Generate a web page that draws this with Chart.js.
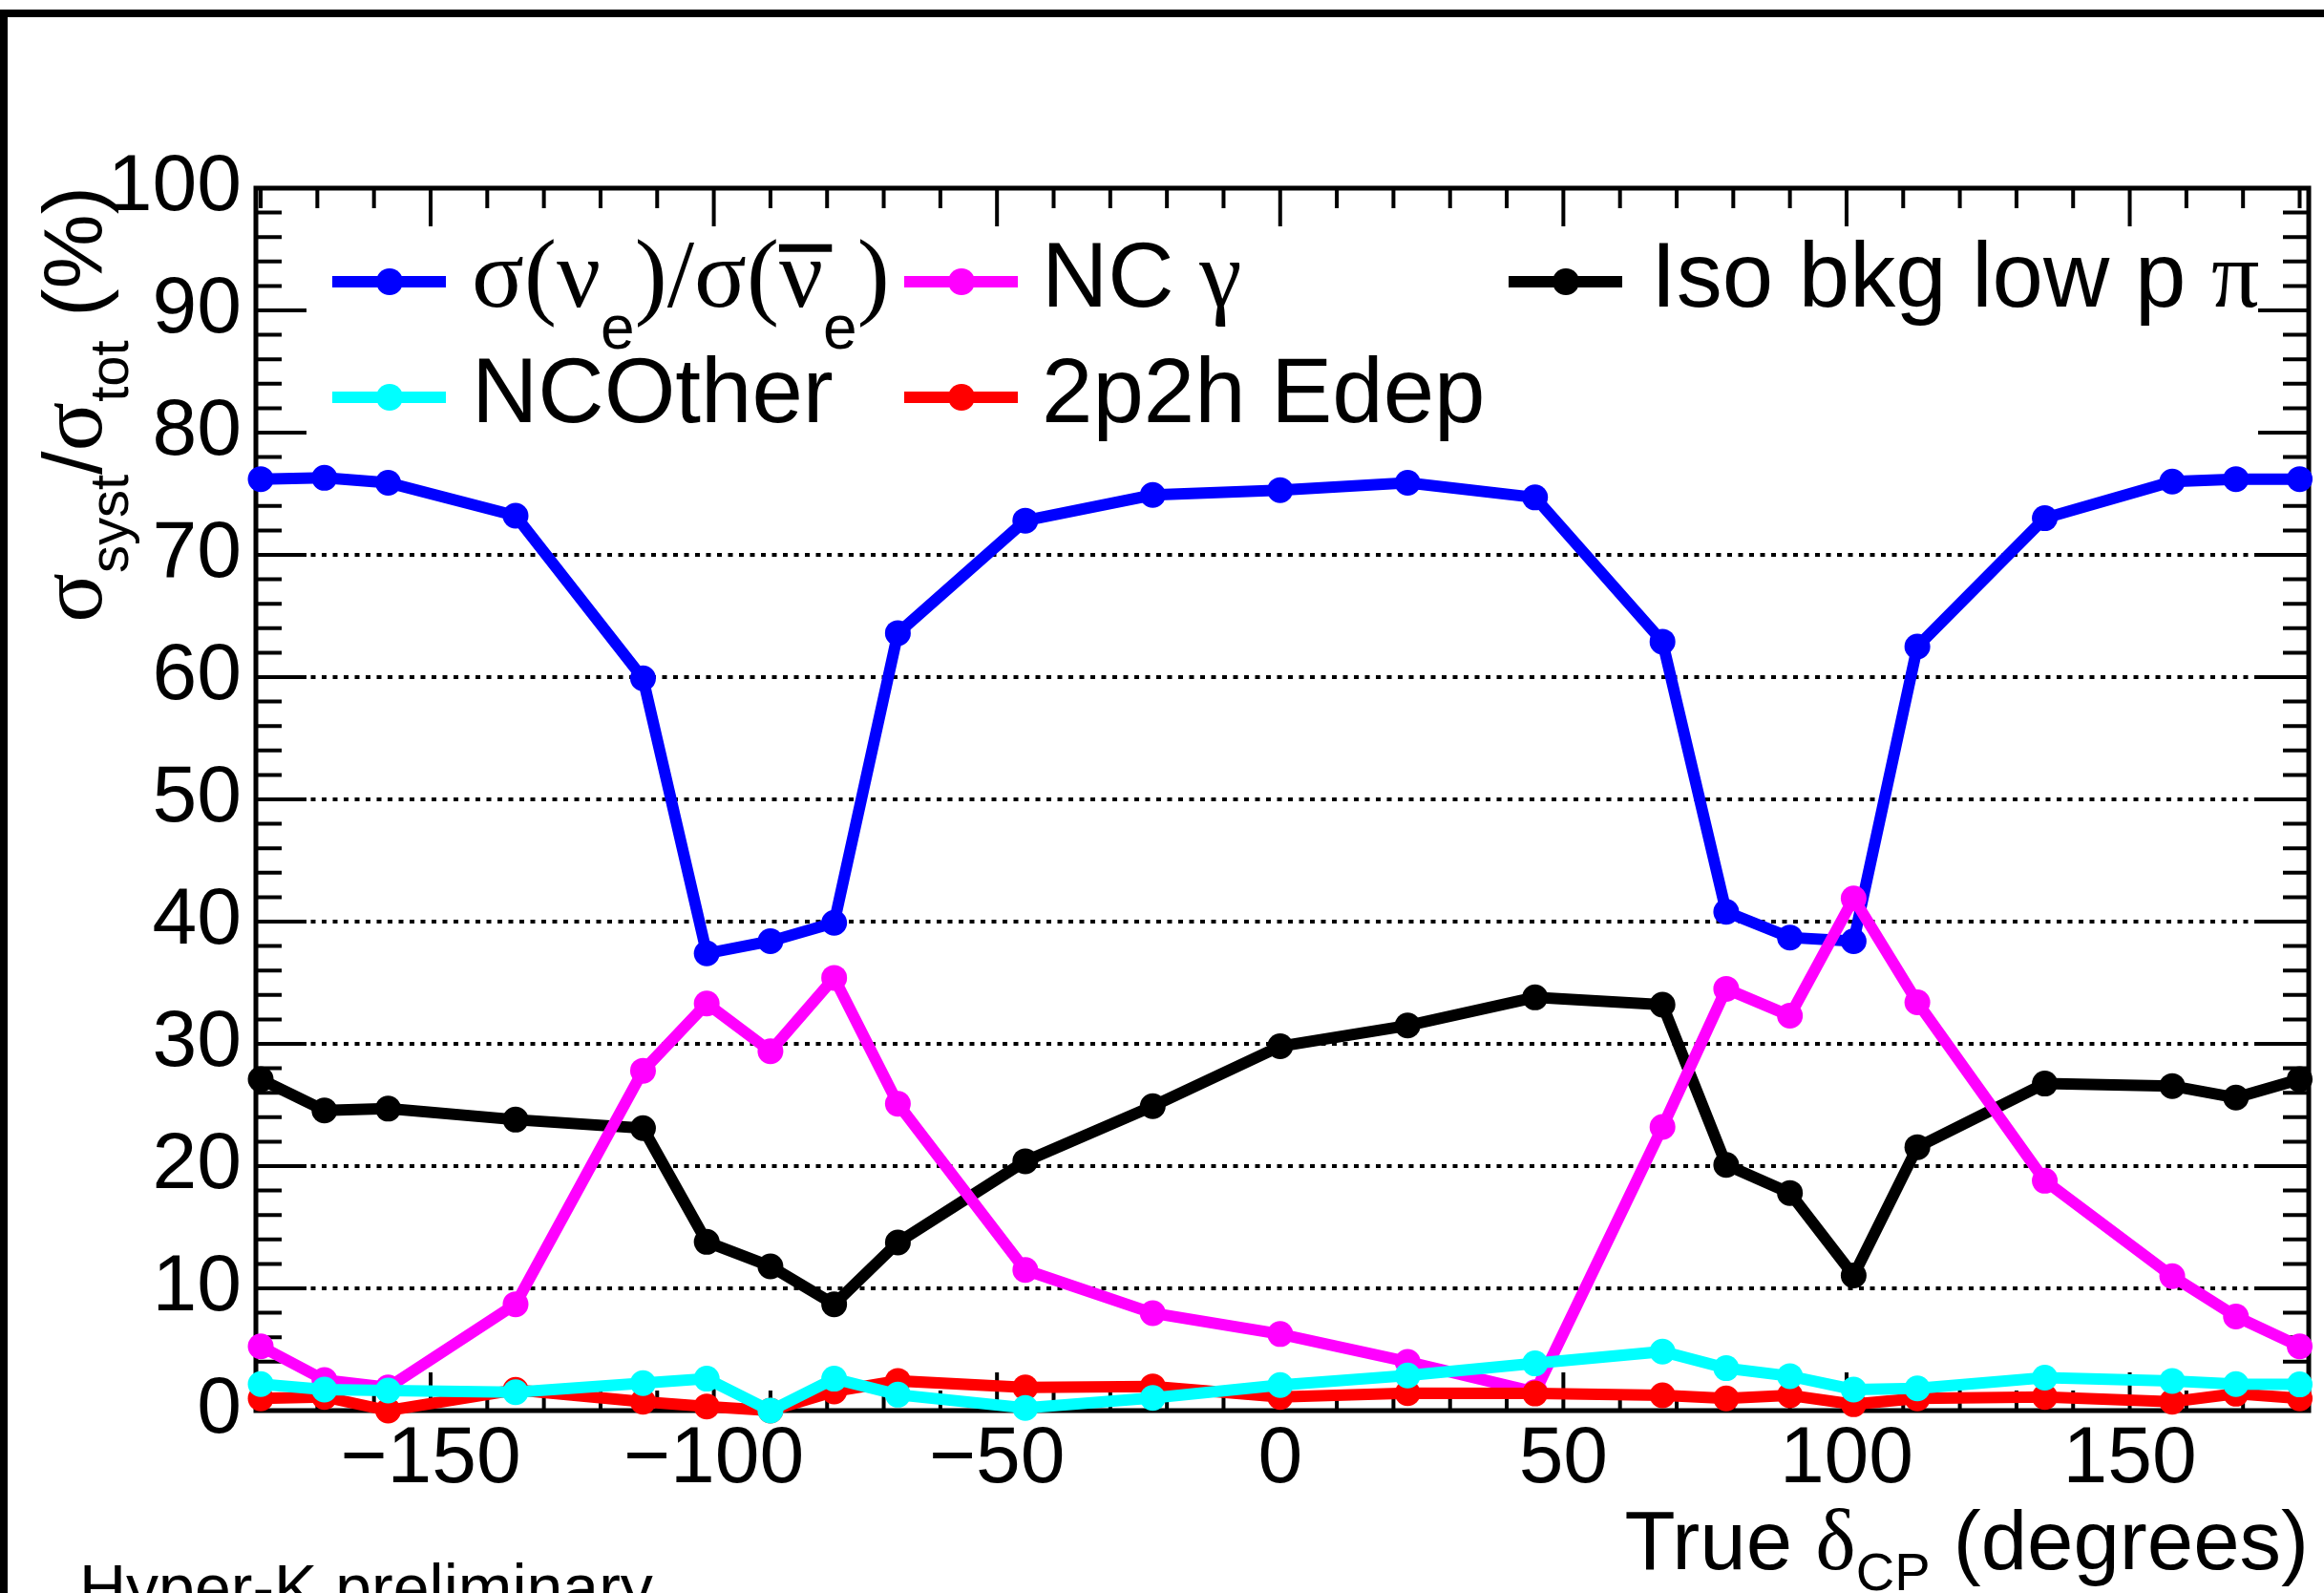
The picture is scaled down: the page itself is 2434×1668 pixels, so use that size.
<!DOCTYPE html>
<html>
<head>
<meta charset="utf-8">
<script src="https://cdn.jsdelivr.net/npm/chart.js@4.4.0/dist/chart.umd.min.js"></script>
<style>
  html, body { margin: 0; padding: 0; background: #fff; }
  #wrap { width: 2434px; height: 1668px; }
</style>
</head>
<body>
<div id="wrap"><canvas id="c" width="2434" height="1668"></canvas></div>
<script>
// True delta_CP values (degrees)
const deltaCP = [-180, -168.75, -157.5, -135, -112.5, -101.25, -90, -78.75, -67.5, -45, -22.5,
                 0, 22.5, 45, 67.5, 78.75, 90, 101.25, 112.5, 135, 157.5, 168.75, 180];

// sigma_syst / sigma_tot (%) per systematic
const ratioNuE  = [76.2, 76.3, 75.9, 73.2, 59.9, 37.4, 38.4, 39.9, 63.6, 72.8, 74.9,
                   75.3, 75.9, 74.7, 62.9, 40.8, 38.7, 38.4, 62.5, 73.0, 76.0, 76.2, 76.2];
const ncGamma   = [5.25, 2.5, 1.9, 8.7, 27.8, 33.3, 29.4, 35.4, 25.1, 11.5, 7.97,
                   6.26, 3.99, 1.51, 23.2, 34.5, 32.3, 41.9, 33.4, 18.8, 11.0, 7.7, 5.25];
const isoLowPi  = [27.1, 24.55, 24.7, 23.8, 23.1, 13.8, 11.8, 8.7, 13.75, 20.4, 24.9,
                   29.8, 31.5, 33.8, 33.2, 20.1, 17.8, 11.05, 21.55, 26.75, 26.55, 25.6, 27.1];
const ncOther   = [2.17, 1.72, 1.64, 1.51, 2.25, 2.61, 0.0, 2.61, 1.3, 0.21, 1.04,
                   2.09, 2.87, 3.86, 4.83, 3.47, 2.82, 1.72, 1.82, 2.69, 2.43, 2.17, 2.14];
const edep2p2h  = [0.99, 1.12, 0.0, 1.7, 0.73, 0.34, 0.0, 1.57, 2.43, 1.9, 1.98,
                   1.12, 1.43, 1.4, 1.25, 0.99, 1.25, 0.52, 0.99, 1.12, 0.73, 1.38, 0.99];

// axis ticks
const xTickValues = [-150, -100, -50, 0, 50, 100, 150];
const yTickValues = [0, 10, 20, 30, 40, 50, 60, 70, 80, 90, 100];
const yGridValues = [10, 20, 30, 40, 50, 60, 70];

const SANS = '"Liberation Sans", Arial, Helvetica, sans-serif';
const SERIF = '"Liberation Serif", "Times New Roman", serif';

function pts(values) {
    return deltaCP.map((x, i) => ({ x: x, y: values[i] }));
}

function series(label, values, color) {
    return {
        label: label,
        data: pts(values),
        borderColor: color,
        backgroundColor: color,
        pointBackgroundColor: color,
        pointBorderWidth: 0,
        pointRadius: 13.5,
        borderWidth: 12,
        tension: 0,
        fill: false,
        clip: false
    };
}

// draw a line of text made of parts (subscripts, serif greek, overline)
function drawRich(ctx, parts, x, y, align) {
    const widths = parts.map(p => {
        ctx.font = p.size + 'px ' + (p.serif ? SERIF : SANS);
        return ctx.measureText(p.t).width;
    });
    const total = widths.reduce((a, b) => a + b, 0);
    let cx = align === 'right' ? x - total : x;
    ctx.textAlign = 'left';
    ctx.textBaseline = 'alphabetic';
    parts.forEach((p, i) => {
        ctx.font = p.size + 'px ' + (p.serif ? SERIF : SANS);
        ctx.fillText(p.t, cx, y + (p.dy || 0));
        if (p.over) {
            ctx.fillRect(cx, y - p.size * 0.64, widths[i] * 1.2, 8);
        }
        cx += widths[i];
    });
}

const legendEntries = [
    { color: '#0000ff', lineX: 348, textX: 494, rowY: 295, parts: [
        { t: 'σ(ν', size: 102, serif: true },
        { t: 'e', size: 64, dy: 44 },
        { t: ')/σ(', size: 102, serif: true },
        { t: 'ν', size: 102, serif: true, over: true },
        { t: 'e', size: 64, dy: 44 },
        { t: ')', size: 102, serif: true } ] },
    { color: '#ff00ff', lineX: 947, textX: 1091, rowY: 295, parts: [
        { t: 'NC ', size: 96 }, { t: 'γ', size: 100, serif: true } ] },
    { color: '#000000', lineX: 1580, textX: 1729, rowY: 295, parts: [
        { t: 'Iso bkg low p ', size: 96 }, { t: 'π', size: 100, serif: true } ] },
    { color: '#00ffff', lineX: 348, textX: 494, rowY: 416, parts: [
        { t: 'NCOther', size: 96 } ] },
    { color: '#ff0000', lineX: 947, textX: 1091, rowY: 416, parts: [
        { t: '2p2h Edep', size: 96 } ] }
];

const rootFrame = {
    id: 'rootFrame',
    beforeDatasetsDraw(chart) {
        const ctx = chart.ctx;
        const a = chart.chartArea;
        const xs = chart.scales.x, ys = chart.scales.y;
        ctx.save();
        // dotted horizontal grid
        ctx.strokeStyle = '#000';
        ctx.lineWidth = 4;
        ctx.setLineDash([5, 6.5]);
        yGridValues.forEach(v => {
            const py = Math.round(ys.getPixelForValue(v));
            ctx.beginPath();
            ctx.moveTo(a.left, py);
            ctx.lineTo(a.right, py);
            ctx.stroke();
        });
        ctx.setLineDash([]);
        // frame
        ctx.lineWidth = 5;
        ctx.strokeRect(a.left, a.top, a.right - a.left, a.bottom - a.top);
        // ticks
        ctx.lineWidth = 4;
        ctx.beginPath();
        for (let v = -180; v <= 180; v += 10) {
            const px = xs.getPixelForValue(v);
            const len = (v % 50 === 0) ? 40 : 21;
            ctx.moveTo(px, a.bottom); ctx.lineTo(px, a.bottom - len);
            ctx.moveTo(px, a.top); ctx.lineTo(px, a.top + len);
        }
        for (let v = 0; v <= 100; v += 2) {
            const py = ys.getPixelForValue(v);
            const len = (v % 10 === 0) ? 53 : 27;
            ctx.moveTo(a.left, py); ctx.lineTo(a.left + len, py);
            ctx.moveTo(a.right, py); ctx.lineTo(a.right - len, py);
        }
        ctx.stroke();
        ctx.restore();
    },
    afterDatasetsDraw(chart) {
        const ctx = chart.ctx;
        ctx.save();
        legendEntries.forEach(e => {
            ctx.strokeStyle = e.color;
            ctx.fillStyle = e.color;
            ctx.lineWidth = 12;
            ctx.beginPath();
            ctx.moveTo(e.lineX, e.rowY);
            ctx.lineTo(e.lineX + 119, e.rowY);
            ctx.stroke();
            ctx.beginPath();
            ctx.arc(e.lineX + 60, e.rowY, 14, 0, Math.PI * 2);
            ctx.fill();
            ctx.fillStyle = '#000';
            drawRich(ctx, e.parts, e.textX, e.rowY + 26, 'left');
        });
        ctx.restore();
    },
    afterDraw(chart) {
        const ctx = chart.ctx;
        const a = chart.chartArea;
        ctx.save();
        ctx.fillStyle = '#000';
        // x axis title
        drawRich(ctx, [
            { t: 'True ', size: 87 },
            { t: 'δ', size: 90, serif: true },
            { t: 'CP', size: 56, dy: 22 },
            { t: ' (degrees)', size: 87 }
        ], a.right, 1643, 'right');
        // y axis title
        ctx.save();
        ctx.translate(106, a.top - 2);
        ctx.rotate(-Math.PI / 2);
        drawRich(ctx, [
            { t: 'σ', size: 96, serif: true },
            { t: 'syst', size: 58, dy: 28 },
            { t: '/', size: 88 },
            { t: 'σ', size: 96, serif: true },
            { t: 'tot', size: 58, dy: 28 },
            { t: ' (%)', size: 88 }
        ], 0, 0, 'right');
        ctx.restore();
        // label
        ctx.font = '68px ' + SANS;
        ctx.textAlign = 'left';
        ctx.textBaseline = 'alphabetic';
        ctx.fillText('Hyper-K preliminary', 83, 1686);
        // canvas border
        ctx.fillRect(0, 10, chart.width, 8);
        ctx.fillRect(0, 10, 8, chart.height);
        ctx.restore();
    }
};

const fmt = v => (v < 0 ? '\u2212' + Math.abs(v) : String(v));

new Chart(document.getElementById('c'), {
    type: 'line',
    data: {
        datasets: [
            series('NCOther', ncOther, '#00ffff'),
            series('2p2h Edep', edep2p2h, '#ff0000'),
            series('NC gamma', ncGamma, '#ff00ff'),
            series('Iso bkg low p pi', isoLowPi, '#000000'),
            series('sigma(nue)/sigma(nuebar)', ratioNuE, '#0000ff')
        ]
    },
    options: {
        responsive: false,
        animation: false,
        devicePixelRatio: 1,
        layout: { padding: { top: 197, right: 16, left: 0, bottom: 0 } },
        plugins: {
            legend: { display: false },
            tooltip: { enabled: false },
            title: { display: false }
        },
        scales: {
            x: {
                type: 'linear',
                min: -180.85,
                max: 181.6,
                grid: { display: false, drawTicks: false },
                border: { display: false },
                afterFit: s => { s.height = 191; },
                afterBuildTicks: s => { s.ticks = xTickValues.map(v => ({ value: v })); },
                ticks: {
                    color: '#000',
                    font: { family: SANS, size: 84 },
                    padding: 1,
                    maxRotation: 0,
                    autoSkip: false,
                    callback: v => fmt(v)
                }
            },
            y: {
                min: 0,
                max: 100,
                grid: { display: false, drawTicks: false },
                border: { display: false },
                afterFit: s => { s.width = 268; },
                afterBuildTicks: s => { s.ticks = yTickValues.map(v => ({ value: v })); },
                ticks: {
                    color: '#000',
                    font: { family: SANS, size: 84 },
                    padding: 15,
                    autoSkip: false,
                    callback: v => fmt(v)
                }
            }
        }
    },
    plugins: [rootFrame]
});
</script>
</body>
</html>
